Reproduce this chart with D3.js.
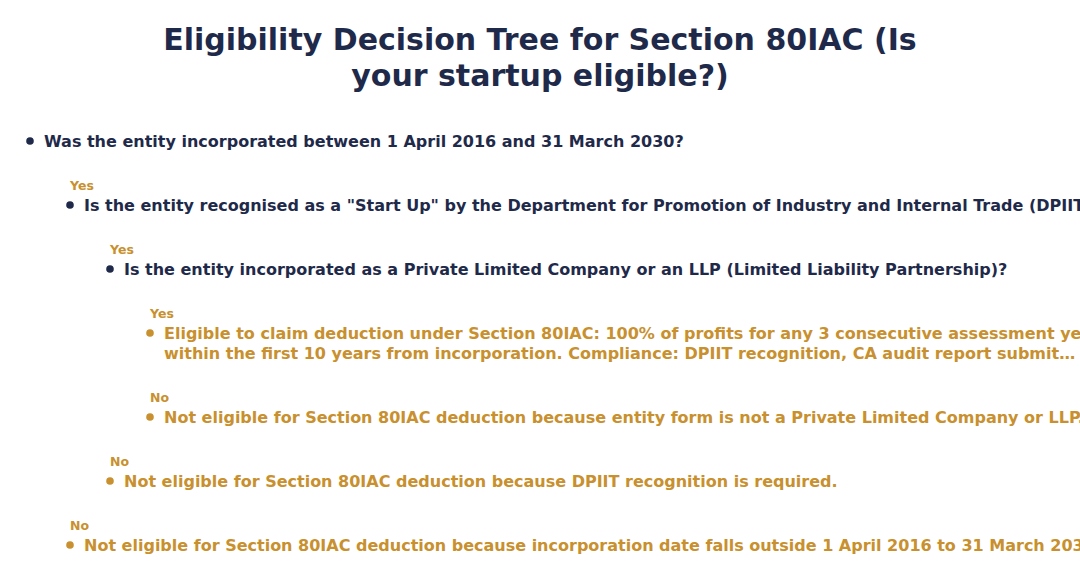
<!DOCTYPE html>
<html><head><meta charset="utf-8">
<script src="https://cdn.jsdelivr.net/npm/d3@7"></script>
<style>body{margin:0;background:#fff;overflow:hidden}svg{display:block}</style>
</head><body>
<script>
const titleLines = ["Eligibility Decision Tree for Section 80IAC (Is", "your startup eligible?)"];
const depths = [0, 1, 2, 3, 3, 2, 1];
const branchLabels = [null, "Yes", "Yes", "Yes", "No", "No", "No"];
const kinds = ["q", "q", "q", "a", "a", "a", "a"];
const texts = [
  ["Was the entity incorporated between 1 April 2016 and 31 March 2030?"],
  ["Is the entity recognised as a \"Start Up\" by the Department for Promotion of Industry and Internal Trade (DPIIT)?"],
  ["Is the entity incorporated as a Private Limited Company or an LLP (Limited Liability Partnership)?"],
  ["Eligible to claim deduction under Section 80IAC: 100% of profits for any 3 consecutive assessment years", "within the first 10 years from incorporation. Compliance: DPIIT recognition, CA audit report submit…"],
  ["Not eligible for Section 80IAC deduction because entity form is not a Private Limited Company or LLP."],
  ["Not eligible for Section 80IAC deduction because DPIIT recognition is required."],
  ["Not eligible for Section 80IAC deduction because incorporation date falls outside 1 April 2016 to 31 March 2030."]
];
const rowY = [147, 211, 275, 339, 423, 487, 551];

const W = 1080, H = 582, navy = "#1f2a4a", gold = "#c8902e";
const svg = d3.select("body").append("svg").attr("width", W).attr("height", H)
  .style("font-family", "'DejaVu Sans', sans-serif");
svg.append("text").attr("x", W/2).attr("y", 50).attr("text-anchor", "middle")
  .attr("font-size", 30).attr("font-weight", "bold").attr("fill", navy)
  .selectAll("tspan").data(titleLines).join("tspan")
  .attr("x", W/2).attr("dy", (d, i) => i ? 36 : 0).text(d => d);

const x = d3.scaleLinear().domain([0, 1]).range([30, 70]);
const rows = texts.map((t, i) => ({t, depth: depths[i], label: branchLabels[i], kind: kinds[i], y: rowY[i]}));
const g = svg.selectAll("g.row").data(rows).join("g").attr("class", "row");
g.append("circle").attr("cx", d => x(d.depth)).attr("cy", d => d.y - 6).attr("r", 3.8)
  .attr("fill", d => d.kind === "q" ? navy : gold);
g.filter(d => d.label).append("text").attr("x", d => x(d.depth)).attr("y", d => d.y - 21)
  .attr("font-size", 12.5).attr("font-weight", "bold").attr("fill", gold).text(d => d.label);
g.append("text").attr("x", d => x(d.depth) + 14).attr("y", d => d.y).attr("font-size", 16)
  .attr("font-weight", "bold").attr("fill", d => d.kind === "q" ? navy : gold)
  .selectAll("tspan").data(d => d.t.map(s => ({s, x: x(d.depth) + 14}))).join("tspan")
  .attr("x", d => d.x).attr("dy", (d, i) => i ? 20 : 0).text(d => d.s);
</script>
</body></html>
